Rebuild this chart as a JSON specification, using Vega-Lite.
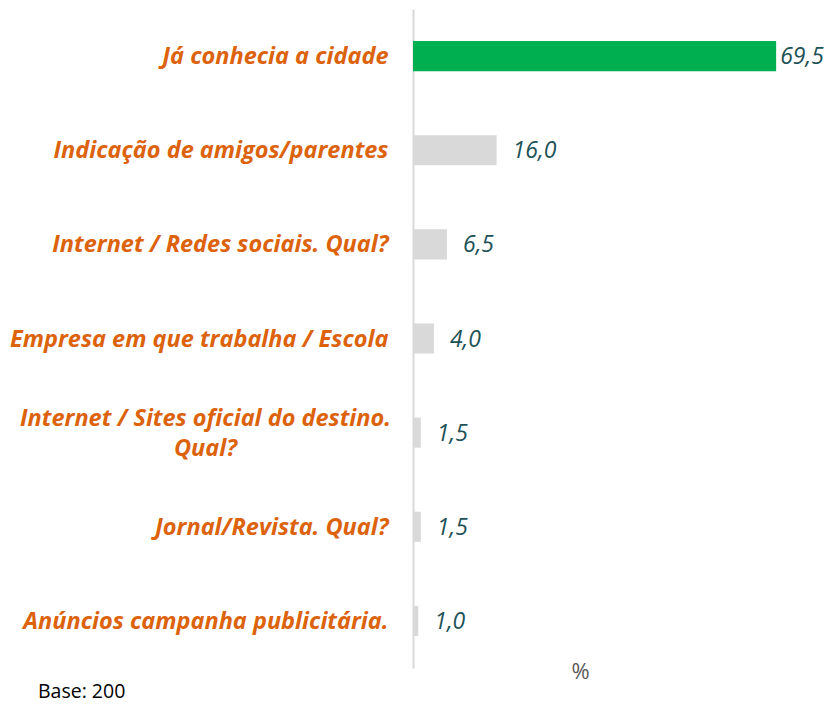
{
  "$schema": "https://vega.github.io/schema/vega-lite/v6.json",
  "autosize": "none",
  "width": 418,
  "height": 659,
  "padding": {"left": 413, "top": 9, "right": 1, "bottom": 37},
  "background": "#ffffff",
  "config": {"view": {"stroke": null}},
  "title": {
    "text": "Base: 200",
    "orient": "bottom",
    "anchor": "start",
    "frame": "group",
    "dx": -375,
    "offset": 1,
    "font": "Open Sans",
    "fontSize": 19.5,
    "fontWeight": "normal",
    "color": "#000000"
  },
  "data": {
    "values": [
      {"label": "Já conhecia a cidade", "value": 69.5, "txt": "69,5", "hl": "yes"},
      {"label": "Indicação de amigos/parentes", "value": 16.0, "txt": "16,0", "hl": "no"},
      {"label": "Internet / Redes sociais. Qual?", "value": 6.5, "txt": "6,5", "hl": "no"},
      {"label": "Empresa em que trabalha / Escola", "value": 4.0, "txt": "4,0", "hl": "no"},
      {"label": "Internet / Sites oficial do destino.\nQual?", "value": 1.5, "txt": "1,5", "hl": "no"},
      {"label": "Jornal/Revista. Qual?", "value": 1.5, "txt": "1,5", "hl": "no"},
      {"label": "Anúncios campanha publicitária.", "value": 1.0, "txt": "1,0", "hl": "no"}
    ]
  },
  "encoding": {
    "y": {
      "field": "label",
      "type": "nominal",
      "sort": ["Já conhecia a cidade", "Indicação de amigos/parentes", "Internet / Redes sociais. Qual?", "Empresa em que trabalha / Escola", "Internet / Sites oficial do destino.\nQual?", "Jornal/Revista. Qual?", "Anúncios campanha publicitária."],
      "scale": {"paddingInner": 0.68, "paddingOuter": 0.34},
      "axis": {
        "title": null,
        "domainColor": "#D9D9D9",
        "domainWidth": 2,
        "ticks": false,
        "labelExpr": "split(datum.label, '\\n')",
        "labelFont": "Open Sans",
        "labelFontSize": 23.5,
        "labelFontWeight": "bold",
        "labelFontStyle": "italic",
        "labelColor": "#DC620C",
        "labelLineHeight": 30,
        "labelLimit": 420,
        "labelAlign": {"condition": {"test": "test(/Sites/, datum.value)", "value": "center"}, "value": "right"},
        "labelPadding": {"condition": {"test": "test(/Sites/, datum.value)", "value": 208}, "value": 25},
        "labelOffset": {"condition": {"test": "test(/Sites/, datum.value)", "value": -14}, "value": 1}
      }
    },
    "x": {
      "field": "value",
      "type": "quantitative",
      "scale": {"domain": [0, 80]},
      "axis": {
        "title": "%",
        "labels": false,
        "ticks": false,
        "domain": false,
        "grid": false,
        "titleX": 167,
        "titleY": 3,
        "titleBaseline": "middle",
        "titleFont": "Open Sans",
        "titleFontSize": 22,
        "titleFontWeight": "normal",
        "titleColor": "#595959"
      }
    }
  },
  "layer": [
    {
      "mark": {"type": "bar"},
      "encoding": {
        "color": {
          "field": "hl",
          "type": "nominal",
          "scale": {"domain": ["yes", "no"], "range": ["#00B050", "#D9D9D9"]},
          "legend": null
        }
      }
    },
    {
      "transform": [{"filter": "datum.value > 60"}],
      "mark": {"type": "text", "align": "left", "baseline": "middle", "dx": 4, "dy": 1, "font": "Open Sans", "fontSize": 23, "fontStyle": "italic", "color": "#1E5257"},
      "encoding": {"text": {"field": "txt"}}
    },
    {
      "transform": [{"filter": "datum.value <= 60"}],
      "mark": {"type": "text", "align": "left", "baseline": "middle", "dx": 16, "dy": 1, "font": "Open Sans", "fontSize": 23, "fontStyle": "italic", "color": "#1E5257"},
      "encoding": {"text": {"field": "txt"}}
    }
  ]
}
